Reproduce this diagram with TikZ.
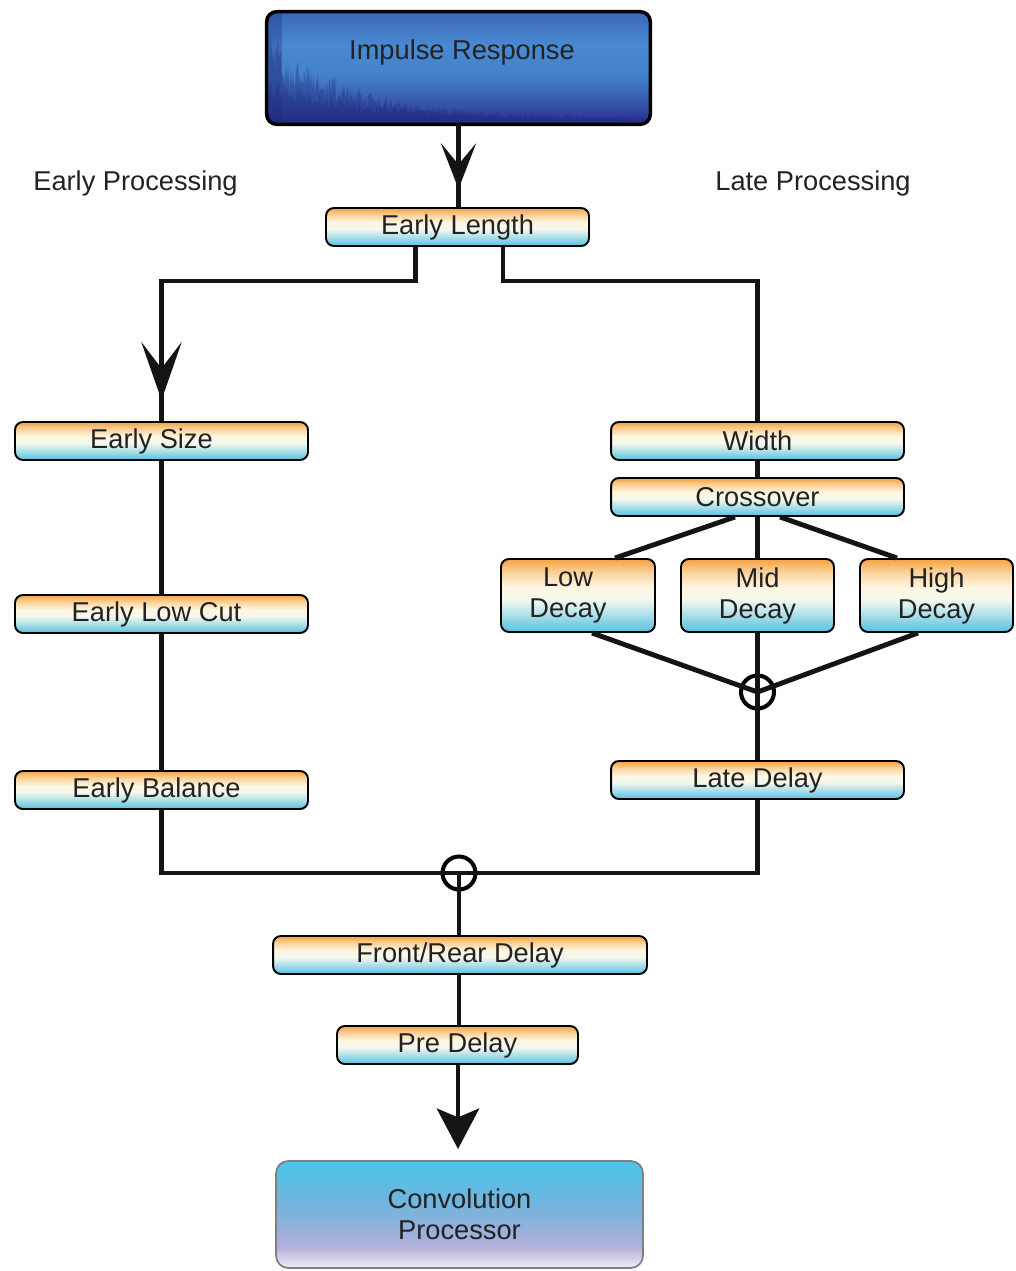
\documentclass[tikz,border=0pt]{standalone}
\usepackage{fontspec}
\setmainfont{Liberation Sans}
\usetikzlibrary{arrows.meta}
\definecolor{txt}{HTML}{222222}
\definecolor{pcy}{HTML}{52C3E0}
\definecolor{pcyb}{HTML}{A6DDE8}
\definecolor{pwh}{HTML}{F3F8EE}
\definecolor{pcr}{HTML}{FEF6E0}
\definecolor{porb}{HTML}{FAD29A}
\definecolor{por}{HTML}{F6A240}
\definecolor{irA}{HTML}{2A2A8C}
\definecolor{irB}{HTML}{3650A8}
\definecolor{irC}{HTML}{4280C9}
\definecolor{irD}{HTML}{4A8AD2}
\definecolor{irE}{HTML}{3A68B9}
\definecolor{irdark}{HTML}{1E2A7A}
\definecolor{cpA}{HTML}{EEECF7}
\definecolor{cpB}{HTML}{B3B0DA}
\definecolor{cpC}{HTML}{7FB2DA}
\definecolor{cpD}{HTML}{62BAE2}
\definecolor{cpE}{HTML}{4EC4EA}
\definecolor{cpborder}{HTML}{7F7F7F}
\pgfdeclareverticalshading{pshade}{100bp}{color(0bp)=(pcy); color(25bp)=(pcy); color(36bp)=(pcyb); color(47bp)=(pwh); color(56bp)=(pcr); color(66bp)=(porb); color(75bp)=(por); color(100bp)=(por)}
\pgfdeclareverticalshading{irshade}{100bp}{color(0bp)=(irA); color(25bp)=(irA); color(33bp)=(irB); color(46bp)=(irC); color(60bp)=(irD); color(75bp)=(irE); color(100bp)=(irE)}
\pgfdeclareverticalshading{cpshade}{100bp}{color(0bp)=(cpA); color(25bp)=(cpA); color(35bp)=(cpB); color(50bp)=(cpC); color(62bp)=(cpD); color(75bp)=(cpE); color(100bp)=(cpE)}
\newcommand{\diagfont}{\fontsize{15.5}{17.6}\selectfont}
\tikzset{
  pbox/.style={draw=black, line width=1.1pt, rounded corners=4.5pt, shading=pshade,
    inner sep=0pt, font=\diagfont, text=txt, align=center},
  conn/.style={draw=black!92, line width=2.8pt},
  junc/.style={circle, draw=black, line width=2.3pt, minimum size=0.66cm, inner sep=0pt},
  lbl/.style={font=\diagfont, text=txt, inner sep=0pt},
  tipA/.tip={Stealth[length=26pt, width=20pt, inset=12pt]},
  tipB/.tip={Stealth[length=33pt, width=23pt, inset=15pt]},
  tipC/.tip={Stealth[length=23pt, width=24pt, inset=5pt]},
}
\begin{document}
\begin{tikzpicture}[x=0.02cm, y=-0.02cm]
\useasboundingbox (0,0) rectangle (1016,1271);

% Impulse response box
\node[shading=irshade, rounded corners=5.7pt, minimum width=7.66cm, minimum height=2.24cm, inner sep=0pt] (ir) at (458.5,68) {};
\begin{scope}
  \clip[rounded corners=5.7pt] (ir.south west) rectangle (ir.north east);
  \pgfmathsetseed{11}
  \fill[irdark, opacity=0.35] (268,126) -- plot[domain=270:650, samples=380] (\x, {122 - (5+90*exp(-(\x-270)/80))*(0.45+0.55*rnd)}) -- (652,126) -- cycle;
  \fill[irdark, opacity=0.3] (268,126) -- plot[domain=270:620, samples=240] (\x, {124 - (4+45*exp(-(\x-270)/110))*(0.5+0.5*rnd)}) -- (652,126) -- cycle;
  \fill[irdark, opacity=0.3] (267,10) rectangle (282,126);
\end{scope}
\draw[line width=2pt, rounded corners=5.7pt] (ir.south west) rectangle (ir.north east);
\node[lbl] (irt) at (462,52) {Impulse Response};

% Section labels
\node[lbl, anchor=west] (ep) at (33,183) {Early Processing};
\node[lbl, anchor=west] (lp) at (715,183) {Late Processing};

% Boxes
\node[pbox, minimum width=5.26cm, minimum height=0.76cm] (el) at (457.5,227) {Early Length};
\node[pbox, minimum width=5.86cm, minimum height=0.76cm] (es) at (161.5,441) {\hspace*{-0.4cm}Early Size};
\node[pbox, minimum width=5.86cm, minimum height=0.76cm] (elc) at (161.5,614) {\hspace*{-0.2cm}Early Low Cut};
\node[pbox, minimum width=5.86cm, minimum height=0.76cm] (eb) at (161.5,790) {\hspace*{-0.2cm}Early Balance};
\node[pbox, minimum width=5.86cm, minimum height=0.76cm] (wd) at (757.5,441) {Width};
\node[pbox, minimum width=5.86cm, minimum height=0.76cm] (co) at (757.5,497) {Crossover};
\node[pbox, minimum width=3.08cm, minimum height=1.46cm] (lowd) at (578,595.5) {\hspace*{-0.4cm}Low\\\hspace*{-0.4cm}Decay};
\node[pbox, minimum width=3.06cm, minimum height=1.46cm] (midd) at (757.5,595.5) {Mid\\Decay};
\node[pbox, minimum width=3.06cm, minimum height=1.46cm] (highd) at (936.5,595.5) {High\\Decay};
\node[pbox, minimum width=5.86cm, minimum height=0.76cm] (ld) at (757.5,780) {Late Delay};
\node[pbox, minimum width=7.48cm, minimum height=0.76cm] (fr) at (460,955) {Front/Rear Delay};
\node[pbox, minimum width=4.82cm, minimum height=0.76cm] (pd) at (457.5,1045) {Pre Delay};
\node[draw=cpborder, line width=1pt, rounded corners=7pt, shading=cpshade, minimum width=7.34cm, minimum height=2.14cm, inner sep=0pt, font=\diagfont, text=txt, align=center] (cp) at (459.5,1214.5) {Convolution\\Processor};

% Junctions
\node[junc] (j1) at (757.5,692) {};
\node[junc] (j2) at (459,873) {};

% Coordinates
\coordinate (a1) at (458.5,189);
\coordinate (bL) at (415.5,281);
\coordinate (bR) at (503,281);
\coordinate (a2) at (161.5,400);
\coordinate (a3) at (458,1149);

% Top arrow
\draw[conn, -{tipA}] (ir.south) -- (ir.south |- a1);
\draw[conn] ([yshift=0.2cm]ir.south |- a1) -- (ir.south |- el.north);

% Early branch
\draw[conn, -{tipB}] (el.south -| bL) -- (bL) -| (a2);
\draw[conn] ([yshift=0.2cm]a2) -- (es.north);
\draw[conn] (es.south) -- (elc.north);
\draw[conn] (elc.south) -- (eb.north);

% Late branch
\draw[conn] (el.south -| bR) -- (bR) -| (wd.north);
\draw[conn] (wd.south) -- (co.north);
\draw[conn] ([xshift=-0.45cm]co.south) -- ([xshift=0.74cm]lowd.north);
\draw[conn] (co.south) -- (midd.north);
\draw[conn] ([xshift=0.45cm]co.south) -- ([xshift=-0.79cm]highd.north);
\draw[conn] ([xshift=0.28cm]lowd.south) -- (j1.center);
\draw[conn] ([xshift=-0.37cm]highd.south) -- (j1.center);
\draw[conn] (midd.south) -- (j1.center) -- (ld.north);

% Merge
\draw[conn] (eb.south) |- (j2.center) -| (ld.south);
\draw[conn] (j2.center) -- (j2.center |- fr.north);
\draw[conn] (fr.south -| j2.center) -- (pd.north -| j2.center);
\draw[conn, -{tipC}] (pd.south -| a3) -- (a3);
\end{tikzpicture}
\end{document}
